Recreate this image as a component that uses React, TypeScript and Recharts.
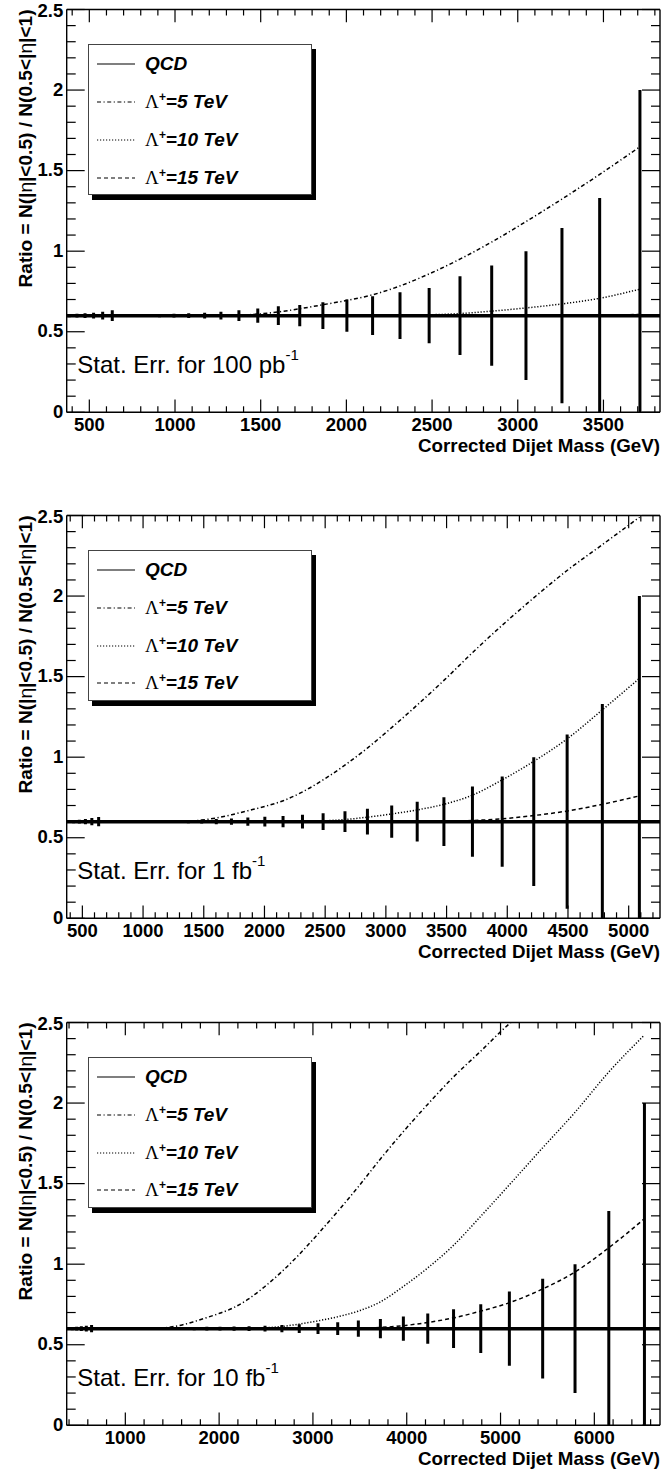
import React from "react";
import { Bar, ComposedChart, Legend, Line, ReferenceLine, XAxis, YAxis } from "recharts";

// bin centres of the corrected dijet mass (GeV)
const MASS = [
  385, 430, 477, 527, 580, 636, 760, 838, 912, 996, 1082, 1175, 1270, 1375, 1485, 1605, 1730, 1865,
  2005, 2155, 2315, 2485, 2665, 2850, 3050, 3260, 3480, 3715, 3960, 4220, 4495, 4785, 5090, 5445,
  5790, 6150, 6530,
];

const QCD_RATIO = 0.6;

// contact interaction predictions, same curves in every panel
const LAMBDA_5 = [
  0.6, 0.6, 0.6, 0.6, 0.6, 0.6, 0.6, 0.6, 0.6, 0.6, 0.6, 0.6, 0.601, 0.603, 0.61, 0.623, 0.643, 0.668,
  0.695, 0.73, 0.785, 0.86, 0.952, 1.058, 1.185, 1.325, 1.478, 1.65, 1.82, 1.99, 2.16, 2.32, 2.49, 2.64,
  2.77, 2.89, 2.99,
];
const LAMBDA_10 = [
  0.6, 0.6, 0.6, 0.6, 0.6, 0.6, 0.6, 0.6, 0.6, 0.6, 0.6, 0.6, 0.6, 0.6, 0.6, 0.6, 0.6, 0.6,
  0.6, 0.6, 0.601, 0.605, 0.613, 0.628, 0.648, 0.673, 0.708, 0.765, 0.86, 0.975, 1.115, 1.295, 1.49, 1.72,
  1.94, 2.19, 2.42,
];
const LAMBDA_15 = [
  0.6, 0.6, 0.6, 0.6, 0.6, 0.6, 0.6, 0.6, 0.6, 0.6, 0.6, 0.6, 0.6, 0.6, 0.6, 0.6, 0.6, 0.6,
  0.6, 0.6, 0.6, 0.6, 0.6, 0.6, 0.6, 0.601, 0.603, 0.607, 0.618, 0.638, 0.666, 0.708, 0.76, 0.845,
  0.95, 1.1, 1.28,
];

// statistical errors (half length) on the QCD ratio
const ERR_100PB = [
  0.01, 0.012, 0.014, 0.018, 0.024, 0.033, 0.007, 0.008, 0.01, 0.012, 0.014, 0.018, 0.024, 0.033,
  0.044, 0.058, 0.066, 0.083, 0.1, 0.12, 0.145, 0.172, 0.245, 0.311, 0.4, 0.544, 0.73, 1.4,
];
const ERR_1FB = [
  0.008, 0.01, 0.012, 0.016, 0.022, 0.028, 0.004, 0.005, 0.005, 0.006, 0.006, 0.007, 0.008, 0.01,
  0.012, 0.017, 0.02, 0.025, 0.03, 0.035, 0.043, 0.052, 0.065, 0.08, 0.1, 0.123, 0.152, 0.218, 0.28,
  0.4, 0.54, 0.73, 1.4,
];
const ERR_10FB = [
  0.008, 0.01, 0.012, 0.014, 0.018, 0.022, 0.003, 0.003, 0.004, 0.004, 0.004, 0.005, 0.005, 0.006,
  0.007, 0.008, 0.01, 0.011, 0.012, 0.013, 0.015, 0.018, 0.022, 0.027, 0.033, 0.04, 0.05, 0.06,
  0.075, 0.094, 0.121, 0.152, 0.23, 0.31, 0.4, 0.73, 1.4,
];

const X_LABELS_100PB = [500, 1000, 1500, 2000, 2500, 3000, 3500];
const X_LABELS_1FB = [500, 1000, 1500, 2000, 2500, 3000, 3500, 4000, 4500, 5000];
const X_LABELS_10FB = [1000, 2000, 3000, 4000, 5000, 6000];
const Y_LABELS = [0, 0.5, 1, 1.5, 2, 2.5];
const LUMI = ["100 pb", "1 fb", "10 fb"];

const PANELS = [
  { err: ERR_100PB, labels: X_LABELS_100PB, lumi: LUMI[0], domain: [368, 3830], step: 100 },
  { err: ERR_1FB, labels: X_LABELS_1FB, lumi: LUMI[1], domain: [371, 5258], step: 100 },
  { err: ERR_10FB, labels: X_LABELS_10FB, lumi: LUMI[2], domain: [375, 6700], step: 200 },
];

const FONT = "'Liberation Sans', Arial, Helvetica, sans-serif";
const W = 662;
const H = 506;
const TOPS = [0, 505.8, 1012.8];
// axes take 1px each, so the plot box is 66.7..660 x 9.5..412.3
const MARGIN = { top: 8.5, left: 65.7, right: 1, bottom: 92.7 };

const DASH: Record<string, string | undefined> = {
  qcd: undefined,
  l5: "4 2.5 1.2 2.5",
  l10: "1.2 1.8",
  l15: "4 3",
};
const TEV: Record<string, number> = { l5: 5, l10: 10, l15: 15 };
const ORDER = ["qcd", "l5", "l10", "l15"];

const yMinor = Array.from({ length: 26 }, (_, i) => i / 10);

function xMinor(domain: number[], step: number) {
  const out: number[] = [];
  for (let v = Math.ceil(domain[0] / step) * step; v <= domain[1]; v += step) out.push(v);
  return out;
}

function buildRows(err: number[]) {
  return err.map((e, i) => ({
    m: MASS[i],
    qcd: QCD_RATIO,
    l5: LAMBDA_5[i],
    l10: LAMBDA_10[i],
    l15: LAMBDA_15[i],
    range: [QCD_RATIO - e, QCD_RATIO + e],
  }));
}

const xTick = (labels: number[], side: "bottom" | "top") => (props: any) => {
  const { x, y, payload } = props;
  const major = labels.includes(payload.value);
  const len = major ? 12.7 : 6;
  const dir = side === "bottom" ? -1 : 1;
  return (
    <g>
      <line x1={x} x2={x} y1={y} y2={y + dir * len} stroke="#000" strokeWidth={1.2} />
      {side === "bottom" && major && (
        <text x={x} y={y + 18.6} textAnchor="middle" fontFamily={FONT} fontWeight="bold" fontSize={18.5} fill="#000">
          {payload.value}
        </text>
      )}
    </g>
  );
};

const yTick = (side: "left" | "right") => (props: any) => {
  const { x, y, payload } = props;
  const v = payload.value;
  const major = Y_LABELS.some((l) => Math.abs(l - v) < 1e-6);
  const len = major ? 18 : 9;
  const dir = side === "left" ? 1 : -1;
  // keep the top label's text box inside the panel
  const base = Math.max(y + 5.5, 17.2);
  return (
    <g>
      <line x1={x} x2={x + dir * len} y1={y} y2={y} stroke="#000" strokeWidth={1.2} />
      {side === "left" && major && (
        <text x={x - 3.4} y={base} textAnchor="end" fontFamily={FONT} fontWeight="bold" fontSize={18.5} fill="#000">
          {String(v)}
        </text>
      )}
    </g>
  );
};

function LegendBox(props: any) {
  const items = [...(props.payload || [])]
    .filter((it: any) => ORDER.includes(it.dataKey))
    .sort((a: any, b: any) => ORDER.indexOf(a.dataKey) - ORDER.indexOf(b.dataKey));
  return (
    <div
      style={{
        position: "relative",
        width: 223.4,
        height: 150.7,
        boxSizing: "border-box",
        border: "1px solid #444",
        background: "#fff",
        boxShadow: "4px 5px 0 #000",
        fontFamily: FONT,
        color: "#000",
      }}
    >
      {items.map((it: any, i: number) => (
        <div key={it.dataKey} style={{ position: "absolute", left: 0, top: 7 + 37.8 * i, height: 24, width: "100%" }}>
          <svg style={{ position: "absolute", left: 7.4, top: 0 }} width={38.3} height={24}>
            <line x1={0} x2={38.3} y1={12} y2={12} stroke="#000" strokeWidth={1.2} strokeDasharray={DASH[it.dataKey]} />
          </svg>
          <span
            style={{
              position: "absolute",
              left: 55.7,
              top: 0,
              lineHeight: "24px",
              fontSize: 19,
              fontWeight: "bold",
              fontStyle: "italic",
              whiteSpace: "nowrap",
            }}
          >
            {it.dataKey === "qcd" ? (
              "QCD"
            ) : (
              <>
                <span style={{ fontFamily: "'Liberation Serif', serif", fontWeight: "normal", fontStyle: "normal" }}>Λ</span>
                <span style={{ fontSize: 12, position: "relative", top: -7 }}>+</span>={TEV[it.dataKey]} TeV
              </>
            )}
          </span>
        </div>
      ))}
    </div>
  );
}

function Panel({ idx }: { idx: number }) {
  const p = PANELS[idx];
  const rows = buildRows(p.err);
  const xt = xMinor(p.domain, p.step);
  return (
    <div style={{ position: "absolute", left: 0, top: TOPS[idx], width: W, height: H }}>
      <ComposedChart width={W} height={H} data={rows} margin={MARGIN}>
        <XAxis
          xAxisId="b"
          dataKey="m"
          type="number"
          domain={p.domain}
          allowDataOverflow
          ticks={xt}
          interval={0}
          height={1}
          tickSize={0}
          tickMargin={0}
          tickLine={false}
          tick={xTick(p.labels, "bottom")}
          axisLine={{ stroke: "#000", strokeWidth: 1.4 }}
        />
        <XAxis
          xAxisId="t"
          orientation="top"
          dataKey="m"
          type="number"
          domain={p.domain}
          allowDataOverflow
          ticks={xt}
          interval={0}
          height={1}
          tickSize={0}
          tickMargin={0}
          tickLine={false}
          tick={xTick(p.labels, "top")}
          axisLine={{ stroke: "#000", strokeWidth: 1.4 }}
        />
        <YAxis
          yAxisId="l"
          type="number"
          domain={[0, 2.5]}
          allowDataOverflow
          ticks={yMinor}
          interval={0}
          width={1}
          tickSize={0}
          tickMargin={0}
          tickLine={false}
          tick={yTick("left")}
          axisLine={{ stroke: "#000", strokeWidth: 1.4 }}
        />
        <YAxis
          yAxisId="r"
          orientation="right"
          type="number"
          domain={[0, 2.5]}
          allowDataOverflow
          ticks={yMinor}
          interval={0}
          width={1}
          tickSize={0}
          tickMargin={0}
          tickLine={false}
          tick={yTick("right")}
          axisLine={{ stroke: "#000", strokeWidth: 1.4 }}
        />
        <ReferenceLine xAxisId="b" yAxisId="l" y={QCD_RATIO} stroke="#000" strokeWidth={3.5} />
        <Bar
          xAxisId="b"
          yAxisId="l"
          dataKey="range"
          barSize={3}
          fill="#000"
          legendType="none"
          isAnimationActive={false}
        />
        <Line xAxisId="b" yAxisId="l" dataKey="qcd" name="QCD" type="linear" stroke="#000" strokeWidth={1} dot={false} isAnimationActive={false} />
        <Line xAxisId="b" yAxisId="l" dataKey="l5" name="Λ+=5 TeV" type="monotone" stroke="#000" strokeWidth={1.5} strokeDasharray={DASH.l5} dot={false} isAnimationActive={false} />
        <Line xAxisId="b" yAxisId="l" dataKey="l10" name="Λ+=10 TeV" type="monotone" stroke="#000" strokeWidth={1.5} strokeDasharray={DASH.l10} dot={false} isAnimationActive={false} />
        <Line xAxisId="b" yAxisId="l" dataKey="l15" name="Λ+=15 TeV" type="monotone" stroke="#000" strokeWidth={1.5} strokeDasharray={DASH.l15} dot={false} isAnimationActive={false} />
        <Legend
          layout="vertical"
          align="center"
          verticalAlign="middle"
          content={<LegendBox />}
          wrapperStyle={{ position: "absolute", left: 88.3, top: 44.3, width: 223.4, height: 150.7 }}
        />
      </ComposedChart>
      <svg width={W} height={H} style={{ position: "absolute", left: 0, top: 0, pointerEvents: "none" }}>
        <text
          transform="translate(31.5, 9.5) rotate(-90)"
          textAnchor="end"
          fontFamily={FONT}
          fontWeight="bold"
          fontSize={18.5}
          textLength={278}
          lengthAdjust="spacingAndGlyphs"
        >
          Ratio = N(|<tspan fontWeight="normal">η</tspan>|&lt;0.5) / N(0.5&lt;|<tspan fontWeight="normal">η</tspan>|&lt;1)
        </text>
        <text x={660} y={451.5} textAnchor="end" fontFamily={FONT} fontWeight="bold" fontSize={18.5} textLength={242} lengthAdjust="spacingAndGlyphs">
          Corrected Dijet Mass (GeV)
        </text>
        <text x={77.3} y={372.7} fontFamily={FONT} fontSize={24}>
          Stat. Err. for {p.lumi}
          <tspan fontSize={15} dy={-13}>-1</tspan>
        </text>
      </svg>
    </div>
  );
}

export default function App() {
  return (
    <div style={{ position: "absolute", left: 0, top: 0, width: W, height: 1472, background: "#fff" }}>
      <Panel idx={0} />
      <Panel idx={1} />
      <Panel idx={2} />
    </div>
  );
}
